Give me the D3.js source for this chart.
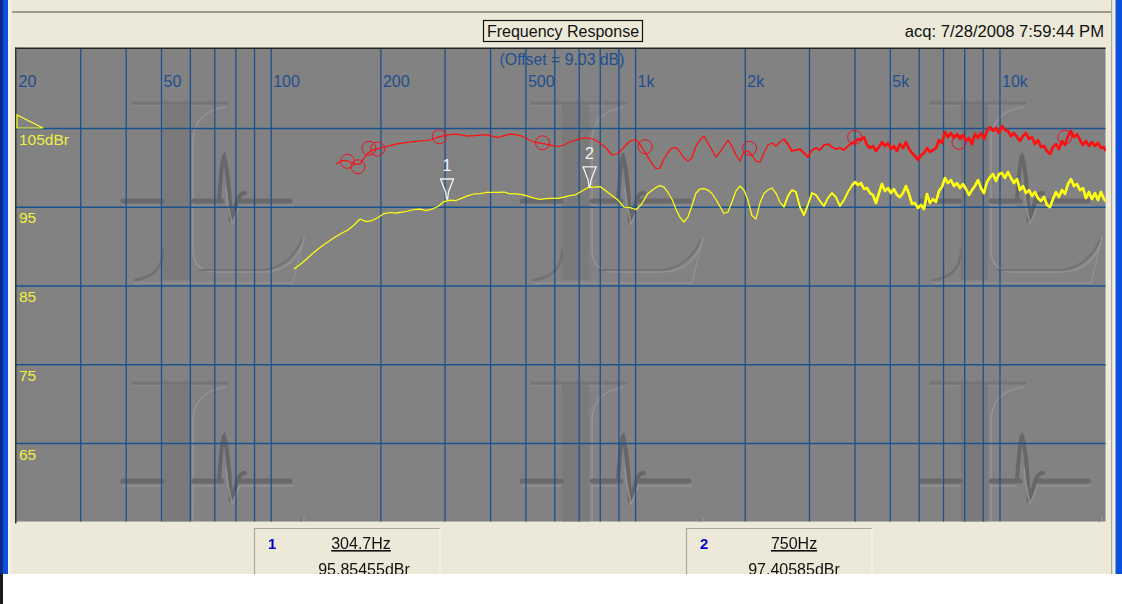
<!DOCTYPE html>
<html><head><meta charset="utf-8">
<script src="https://cdn.jsdelivr.net/npm/d3@7"></script>
<style>
html,body{margin:0;padding:0;background:#fff;overflow:hidden}
svg{display:block;filter:blur(0.45px)}
text{font-family:"Liberation Sans",Arial,sans-serif}
</style></head><body>
<svg id="c" width="1122" height="604"></svg>
<script>
const freqHz=[115.9,120.4,125.0,129.9,134.9,140.1,145.5,151.1,157.0,163.0,169.3,175.9,182.7,189.7,197.1,204.7,212.6,220.8,229.3,238.2,247.4,257.0,266.9,277.2,287.9,299.0,310.5,322.5,335.0,347.9,361.4,375.3,389.8,404.9,420.5,436.8,453.7,471.2,489.4,508.3,528.0,548.4,569.6,591.6,614.4,638.2,662.8,688.4,715.0,742.7,771.4,801.2,832.1,864.3,897.7,932.4,968.4,1006,
1031,1058,1085,1112,1141,1170,1200,1231,1262,1294,1327,1361,1396,1432,1469,1506,1545,1584,1625,1667,1709,1753,1798,1844,1891,1939,1989,2040,2092,2146,2201,2257,2315,2374,2435,2497,2561,2627,2694,2763,2834,2906,2981,3057,3135,3215,3298,3382,3469,3557,3648,3742,3838,3936,
4013,4090,4168,4248,4329,4412,4496,4582,4670,4759,4850,4943,5038,5134,5232,5332,5434,5538,5644,5752,5862,5974,6089,6205,6324,6445,6568,6694,6822,6953,7086,7221,7359,7500,7644,7790,7939,8091,8246,8404,8565,8729,8896,9066,9240,9417,9597,9781,9968,10160,10350,10550,10750,10960,11170,11380,11600,11820,12050,12280,12510,12750,13000,13250,13500,13760,14020,14290,14560,14840,15130,15420,15710,16010,16320,16630,16950,17270,17600,17940,18280,18630,18990,19350,19540];
const yellowDb=[87.09,87.66,88.30,89.0,89.63,90.2,90.71,91.22,91.66,92.04,92.68,93.44,93.12,93.25,93.63,94.14,94.27,94.2,94.33,94.46,94.65,94.71,94.52,94.71,95.03,95.66,95.85,95.79,96.1,96.42,96.62,96.68,96.81,96.81,96.81,96.87,96.62,96.62,96.55,96.36,96.1,95.94,96.04,96.07,96.07,96.23,96.42,96.55,96.99,97.44,97.5,97.57,96.99,96.42,95.85,94.96,94.9,94.65,
95.09,95.85,96.68,97.06,97.44,97.69,97.5,96.81,95.98,94.71,93.69,93.06,93.69,95.09,96.74,97.25,97.31,97.12,96.68,95.92,95.03,94.14,94.33,95.6,96.99,97.63,97.12,95.85,93.89,93.44,95.47,96.68,97.12,97.38,96.74,95.6,94.96,96.36,97.12,96.87,94.96,93.95,95.22,96.74,96.49,95.73,95.09,96.1,96.74,96.23,95.09,95.85,96.87,97.69,
98.14,97.76,98.01,97.25,97.38,96.74,96.49,95.47,96.74,97.89,96.99,97.38,96.74,97.25,96.49,96.23,96.74,97.63,96.62,95.35,95.47,94.84,95.22,94.71,96.62,95.47,95.98,95.6,96.99,97.5,98.65,98.01,98.39,97.63,98.01,97.38,97.89,97.25,96.49,97.12,97.63,98.39,97.38,96.74,98.14,98.77,99.15,98.27,99.15,99.28,98.65,99.41,98.65,98.01,98.52,97.12,97.63,96.74,97.12,96.36,96.87,96.1,95.73,96.23,95.22,94.96,95.98,96.87,96.23,97.12,96.62,97.89,98.52,97.63,97.89,97.12,97.38,96.1,96.87,95.98,96.74,95.85,96.87,95.98,95.73];
const redHz=freqHz.slice(7);
const redDb=[100.42,100.87,100.81,100.42,100.42,101.57,102.2,102.39,102.58,102.77,102.96,103.09,103.22,103.28,103.35,103.41,103.54,103.85,104.04,104.17,104.23,104.11,103.98,104.04,104.11,104.17,103.98,103.79,104.04,104.23,104.17,103.98,103.54,103.22,103.09,102.96,102.77,102.65,102.84,103.22,103.47,103.73,103.73,103.54,103.09,102.46,101.57,101.76,102.58,103.35,103.54,
102.96,102.08,101.31,100.49,99.85,99.92,101.06,101.89,102.46,102.52,102.01,101.19,100.81,101.19,102.71,103.47,103.98,103.09,102.2,101.31,101.95,102.71,103.47,102.71,101.57,100.81,101.95,102.08,101.57,100.81,100.68,101.82,102.84,103.09,102.71,103.22,103.6,102.96,102.08,102.2,102.33,101.82,101.31,102.2,102.46,102.2,102.84,102.96,102.58,102.33,102.46,102.2,102.71,103.09,
103.22,103.6,103.47,103.85,102.84,102.46,102.71,102.08,102.58,103.22,102.71,103.09,102.33,102.71,102.08,102.96,102.46,103.22,102.33,101.82,101.44,100.93,101.57,101.82,102.46,101.95,102.2,102.46,103.47,103.09,104.49,103.85,104.36,103.73,104.23,103.6,104.11,103.35,103.73,102.96,104.23,103.73,104.36,103.6,104.62,105.12,104.62,105,104.36,105.25,104.74,104.62,103.98,104.36,103.85,103.35,103.98,104.36,103.6,103.85,102.96,103.47,102.58,102.71,102.08,101.7,102.58,102.96,102.33,103.35,102.84,103.98,104.62,103.85,104.23,103.47,102.84,103.35,102.71,103.22,102.71,103.09,102.46,102.58,102.08];
const circleHz=[162.4,173.6,186.1,196.4,290.2,557,1065,2062,4003,7742,15100];
const circleDb=[100.77,100.08,102.42,102.33,103.89,103.13,102.62,102.42,103.82,103.18,103.82];
const gridHz=[30,40,50,60,70,80,90,100,200,300,400,500,600,700,800,900,1000,2000,3000,4000,5000,6000,7000,8000,9000,10000];
const xLabels={20:"20",50:"50",100:"100",200:"200",500:"500",1000:"1k",2000:"2k",5000:"5k",10000:"10k"};
const labelHz=[20,50,100,200,500,1000,2000,5000,10000];
const dbTicks=[105,95,85,75,65];
const cursorHz=[304.7,750];
const cursorDb=[95.85455,97.40585];
const cursorHzText=["304.7Hz","750Hz"];
const cursorDbText=["95.85455dBr","97.40585dBr"];

const svg=d3.select("#c");
const P={l:16,r:1105.5,t:48.5,b:521.5};
const x=d3.scaleLog().domain([20,19540]).range([P.l,P.r]);
const y=d3.scaleLinear().domain([55,115]).range([521.75,49.25]);
const BEIGE="#ece9d8",GRID="#1a5290",LABEL="#1f4f8e";

// window chrome
svg.append("rect").attr("width",1122).attr("height",574).attr("fill",BEIGE);
svg.append("rect").attr("x",0).attr("y",0).attr("width",3).attr("height",574).attr("fill","#0a2a8a");
svg.append("rect").attr("x",3).attr("y",0).attr("width",5).attr("height",574).attr("fill","#0c50e0");
svg.append("rect").attr("x",8).attr("y",0).attr("width",3).attr("height",574).attr("fill","#f4f2e8");
svg.append("rect").attr("x",12).attr("y",11).attr("width",1100).attr("height",2).attr("fill","#9c9985");
svg.append("rect").attr("x",1111).attr("y",0).attr("width",1.5).attr("height",574).attr("fill","#aca899");
svg.append("rect").attr("x",1112.5).attr("y",0).attr("width",3).attr("height",574).attr("fill","#f4f2e8");
svg.append("rect").attr("x",1115.5).attr("y",0).attr("width",7).attr("height",574).attr("fill","#0c50e0");

// plot background
svg.append("rect").attr("x",P.l).attr("y",P.t).attr("width",P.r-P.l).attr("height",P.b-P.t).attr("fill","#828282");
const defs=svg.append("defs");
defs.append("clipPath").attr("id","plot").append("rect").attr("x",P.l).attr("y",P.t).attr("width",P.r-P.l).attr("height",P.b-P.t);
const logo=defs.append("g").attr("id","logo").attr("fill","none").attr("stroke-linecap","round").attr("opacity",.6);
const DK="#5e5e5e",LT="#a4a4a4";
logo.append("rect").attr("x",163).attr("y",104).attr("width",27).attr("height",176).attr("fill","#767676").attr("stroke","none");
logo.append("path").attr("d","M133 103H227").attr("stroke","#6c6c6c").attr("stroke-width",3);
logo.append("path").attr("d","M133 106H162M190 106H205").attr("stroke",LT).attr("stroke-width",1.2).attr("opacity",.7);
logo.append("path").attr("d","M163 250Q163 276 135 280").attr("stroke","#666").attr("stroke-width",2.5);
logo.append("path").attr("d","M225 107Q194 112 193 140V250Q193 271 215 272H262Q295 272 304 238").attr("stroke",LT).attr("stroke-width",1.6).attr("opacity",.85);
logo.append("path").attr("d","M200 270H265Q290 266 302 240").attr("stroke","#6a6a6a").attr("stroke-width",2.2);
logo.append("path").attr("d","M304 238L293 283H135").attr("stroke",LT).attr("stroke-width",1.3).attr("opacity",.75);
logo.append("path").attr("d","M123 201H162M193 201H222M240 201H290").attr("stroke","#5a5a5a").attr("stroke-width",5);
logo.append("path").attr("d","M123 206H162M193 206H217M242 206H293").attr("stroke",LT).attr("stroke-width",1.6).attr("opacity",.85);
logo.append("path").attr("d","M219 200Q222 158 224 156Q229 175 231 222L236 205Q239 192 245 193").attr("stroke","#555").attr("stroke-width",4);
logo.append("path").attr("d","M226 188L228 205L232 224L240 205").attr("stroke",LT).attr("stroke-width",1.5).attr("opacity",.9);
const wm=svg.append("g").attr("clip-path","url(#plot)");
[0,399,798].forEach(dx=>[0,280].forEach(dy=>wm.append("use").attr("href","#logo").attr("x",dx).attr("y",dy)));

// grid + axes
const xAxis=d3.axisTop(x).tickValues(gridHz).tickSize(P.b-P.t).tickFormat("");
const gx=svg.append("g").attr("transform",`translate(0,${P.b})`).call(xAxis);
gx.select(".domain").remove();
gx.selectAll("line").attr("stroke",GRID).attr("stroke-width",1.3);
const yAxis=d3.axisRight(y).tickValues(dbTicks).tickSize(P.r-P.l).tickFormat(d=>d===105?"105dBr":String(d));
const gy=svg.append("g").attr("transform",`translate(${P.l},0)`).call(yAxis);
gy.select(".domain").remove();
gy.selectAll("line").attr("stroke",GRID).attr("stroke-width",1.3);
gy.selectAll("text").attr("x",3).attr("dy",0).attr("y",16).attr("text-anchor","start")
  .attr("fill","#f0f040").style("font-size","15.5px").style("font-family",'"Liberation Sans",Arial,sans-serif');

svg.append("g").selectAll("text").data(labelHz).join("text")
  .attr("x",d=>x(d)+2.5).attr("y",87).text(d=>xLabels[d])
  .attr("fill",LABEL).style("font-size","16px");
svg.append("rect").attr("x",P.l-1).attr("y",P.t-1).attr("width",P.r-P.l+1).attr("height",1.5).attr("fill","#222");
svg.append("rect").attr("x",P.l-1).attr("y",P.t-1).attr("width",1.5).attr("height",P.b-P.t+3).attr("fill","#333");

svg.append("text").attr("x",562).attr("y",65).attr("text-anchor","middle").text("(Offset = 9.03 dB)")
  .attr("fill",LABEL).style("font-size","15.8px");

// reference level triangle
svg.append("path").attr("d",d3.line()([[17,115],[17,y(105)],[43,y(105)]])+"Z").attr("fill","none").attr("stroke","#ffff20").attr("stroke-width",1.2);

// traces
const plot=svg.append("g").attr("clip-path","url(#plot)");
const line=d3.line().x(d=>x(d[0])).y(d=>y(d[1]));
function trace(hz,db,colour){
  const pts=d3.zip(hz,db);
  const add=(p,w)=>plot.append("path").attr("d",line(p)).attr("fill","none").attr("stroke",colour).attr("stroke-width",w).attr("stroke-linejoin","round");
  add(pts,1.25);
  add(pts.filter(d=>d[0]>=2500),1.8);
  add(pts.filter(d=>d[0]>=3900),2.6);
}
trace(freqHz,yellowDb,"#ffff10");
trace(redHz,redDb,"#ff1010");
plot.append("g").selectAll("circle").data(d3.zip(circleHz,circleDb)).join("circle")
  .attr("cx",d=>x(d[0])).attr("cy",d=>y(d[1])).attr("r",7).attr("fill","none").attr("stroke","#f01020").attr("stroke-width",1);

// cursors
const cur=svg.append("g").selectAll("g").data(d3.zip(cursorHz,cursorDb)).join("g")
  .attr("transform",d=>`translate(${x(d[0])},${y(d[1])})`);
cur.append("path").attr("d","M-6.5 -21H6.5L1.5 -8L0.5 -1H-0.5L-1.5 -8Z").attr("fill","none").attr("stroke","#f2f2f2").attr("stroke-width",1.3);
cur.append("text").attr("y",-29).attr("text-anchor","middle").text((d,i)=>i+1).attr("fill","#f4f4f4").style("font-size","16px");

// title
svg.append("rect").attr("x",483.5).attr("y",20.5).attr("width",159).attr("height",21).attr("fill","none").attr("stroke","#111").attr("stroke-width",1.2);
svg.append("text").attr("x",563).attr("y",37).attr("text-anchor","middle").text("Frequency Response").attr("fill","#111").style("font-size","16px");
svg.append("text").attr("x",1104).attr("y",37).attr("text-anchor","end").text("acq: 7/28/2008 7:59:44 PM").attr("fill","#111").style("font-size","16.6px");

// cursor readouts
const boxes=[254,686];
boxes.forEach((bx,i)=>{
  const g=svg.append("g").attr("transform",`translate(${bx},0)`);
  g.append("path").attr("d","M0.5 574V528.5H186").attr("fill","none").attr("stroke","#aca899").attr("stroke-width",1.2);
  g.append("path").attr("d","M186 528.5V574").attr("fill","none").attr("stroke","#f6f5ee").attr("stroke-width",1.2);
  g.append("text").attr("x",14).attr("y",549).text(i+1).attr("fill","#0000d0").style("font-size","15px").style("font-weight","bold");
  g.append("text").attr("x",i?108:107).attr("y",549).attr("text-anchor","middle").text(cursorHzText[i]).attr("fill","#111").style("font-size","16px").style("text-decoration","underline");
  g.append("text").attr("x",i?108:110).attr("y",575).attr("text-anchor","middle").text(cursorDbText[i]).attr("fill","#111").style("font-size","16px");
});

// cropped bottom
svg.append("rect").attr("x",0).attr("y",574).attr("width",1122).attr("height",30).attr("fill","#fff");
svg.append("rect").attr("x",0).attr("y",574).attr("width",3).attr("height",30).attr("fill","#1a1a1a");
</script>
</body></html>
